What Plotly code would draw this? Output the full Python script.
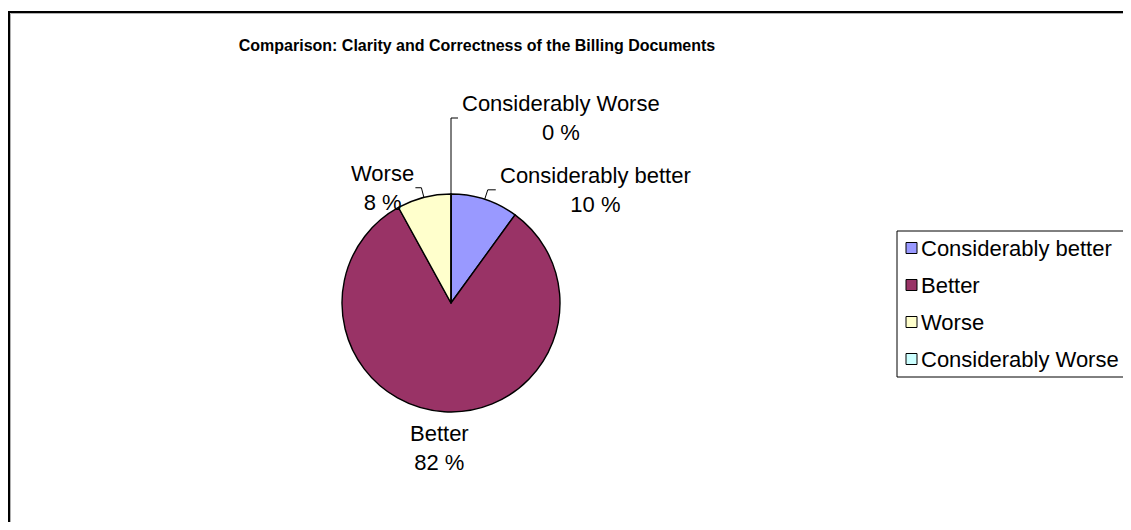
import math

import plotly.graph_objects as go

# data
categories = ["Considerably better", "Better", "Worse", "Considerably Worse"]
values = [10, 82, 8, 0]
colors = ["#9999FF", "#993366", "#FFFFCC", "#CCFFFF"]
title = "Comparison: Clarity and Correctness of the Billing Documents"

# the page body has an 8px margin, so the figure is a bit smaller than the window
OFF = 8
FW, FH = 1131 - 2 * OFF, 530 - 2 * OFF
CX, CY, R = 451, 303, 109  # pie centre / radius in window px

# label placement style: (leader length, side, horizontal tick, draw leader)
label_style = [
    (10, "right", 8, True),
    (10, "below", 0, False),
    (10, "left", 6, True),
    (76, "right", 7, True),
]
LABEL_SIZE = 22


def px(x):
    return (x - OFF) / FW


def py(y):
    return 1 - (y - OFF) / FH


fig = go.Figure()

fig.add_trace(go.Pie(
    labels=categories,
    values=values,
    marker={"colors": colors, "line": {"color": "black", "width": 1.4}},
    sort=False,
    direction="clockwise",
    rotation=0,
    textinfo="none",
    hoverinfo="label+percent",
    showlegend=False,
    domain={"x": [px(CX - R), px(CX + R)], "y": [py(CY + R), py(CY - R)]},
))

# labels with leader lines, placed from the slice angles
total = sum(values)
cum = 0
shapes = []
for cat, val, (lead, side, tick, draw) in zip(categories, values, label_style):
    mid = (cum + val / 2) / total * 2 * math.pi
    cum += val
    sx, sy = math.sin(mid), -math.cos(mid)
    ex, ey = CX + R * sx, CY + R * sy
    bx, by = CX + (R + lead) * sx, CY + (R + lead) * sy
    text = f"{cat}<br>{round(val / total * 100)} %"
    if side == "right":
        tx, ty = bx + tick + 2, by
        xa, ya = "left", "middle"
        hx = bx + tick
    elif side == "left":
        tx, ty = bx - tick + 1, by
        xa, ya = "right", "middle"
        hx = bx - tick
    else:
        tx, ty = bx - 4, by - 3
        xa, ya = "center", "top"
        hx = bx
    if draw:
        shapes.append({
            "type": "path", "xref": "paper", "yref": "paper",
            "path": f"M {px(ex)},{py(ey)} L {px(bx)},{py(by)} L {px(hx)},{py(by)}",
            "line": {"color": "black", "width": 1},
        })
    fig.add_annotation(
        x=px(tx), y=py(ty), xref="paper", yref="paper",
        xanchor=xa, yanchor=ya, text=text, showarrow=False, align="center",
        font={"size": LABEL_SIZE, "color": "black"},
    )

# legend box (drawn by hand so the keys sit tight to the text like the original)
LEG_X, LEG_Y, LEG_ROW = 897, 231, 37
shapes.append({
    "type": "rect", "xref": "paper", "yref": "paper",
    "x0": px(LEG_X), "y0": py(LEG_Y), "x1": px(1160),
    "y1": py(LEG_Y + LEG_ROW * len(categories) - 2),
    "line": {"color": "black", "width": 1}, "fillcolor": "white",
})
for i, (cat, col) in enumerate(zip(categories, colors)):
    yc = LEG_Y + 17 + LEG_ROW * i
    shapes.append({
        "type": "rect", "xref": "paper", "yref": "paper",
        "x0": px(LEG_X + 9), "x1": px(LEG_X + 20),
        "y0": py(yc - 5.5), "y1": py(yc + 5.5),
        "line": {"color": "black", "width": 1}, "fillcolor": col,
    })
    fig.add_annotation(
        x=px(LEG_X + 22), y=py(yc), xref="paper", yref="paper",
        xanchor="left", yanchor="middle", text=cat, showarrow=False,
        font={"size": LABEL_SIZE, "color": "black"},
    )

# outer chart border
shapes.append({
    "type": "rect", "xref": "paper", "yref": "paper",
    "x0": px(10.5), "y0": py(13.5), "x1": px(1160), "y1": py(560),
    "line": {"color": "#b0b0b0", "width": 1},
})
shapes.append({
    "type": "rect", "xref": "paper", "yref": "paper",
    "x0": px(9), "y0": py(12), "x1": px(1160), "y1": py(560),
    "line": {"color": "black", "width": 2},
})

fig.update_layout(
    width=FW,
    height=FH,
    margin={"l": 0, "r": 0, "t": 0, "b": 0},
    paper_bgcolor="white",
    plot_bgcolor="white",
    font={"family": "Liberation Sans, Arial, sans-serif", "color": "black"},
    title={
        "text": f"<b>{title}</b>",
        "x": px(477), "xanchor": "center",
        "y": py(45), "yanchor": "middle",
        "font": {"size": 16, "color": "black"},
    },
    shapes=shapes,
    showlegend=False,
)

fig.write_html("out.html")
